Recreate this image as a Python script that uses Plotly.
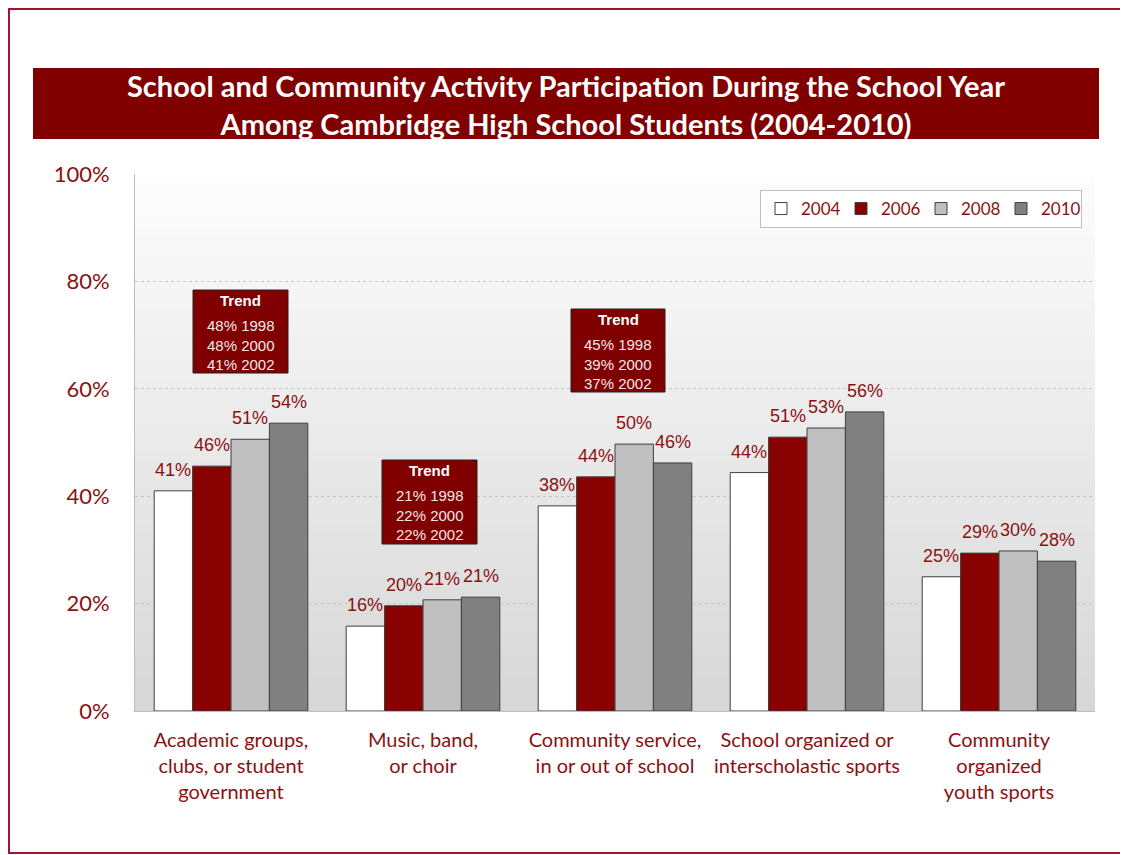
import plotly.graph_objects as go

# Data
categories = [
    "Academic groups,<br>clubs, or student<br>government",
    "Music, band,<br>or choir",
    "Community service,<br>in or out of school",
    "School organized or<br>interscholastic sports",
    "Community<br>organized<br>youth sports",
]
years = ["2004", "2006", "2008", "2010"]
values_2004 = [41.0, 15.8, 38.2, 44.4, 25.0]
values_2006 = [45.6, 19.6, 43.6, 51.0, 29.4]
values_2008 = [50.6, 20.7, 49.7, 52.7, 29.8]
values_2010 = [53.6, 21.2, 46.2, 55.7, 27.9]
series = [values_2004, values_2006, values_2008, values_2010]

trend_years = ["1998", "2000", "2002"]
trend_academic = [48, 48, 41]
trend_music = [21, 22, 22]
trend_community = [45, 39, 37]

bar_colors = ["#ffffff", "#880000", "#bfbfbf", "#808080"]
dark_red = "#8b1111"
calibri = "Lato, 'Open Sans', sans-serif"
arial = "'Liberation Sans', Arial, sans-serif"
bar_gap = 0.2

fig = go.Figure()

for year, vals, col in zip(years, series, bar_colors):
    fig.add_trace(go.Bar(
        name=year,
        x=categories,
        y=vals,
        marker=dict(color=col, line=dict(color="#3f3f3f", width=1)),
    ))

# the page sits 8px in from the window corner, so the helpers take window pixels
# (plot area spans 135..1095 x 174..711 in the window)
def px(x):
    return (x - 135) / 960

def py(y):
    return (711 - y) / 537

annotations = []

# value labels above each bar, placed on the category axis
bar_w = (1 - bar_gap) / len(series)
for j, vals in enumerate(series):
    for i, v in enumerate(vals):
        annotations.append(dict(
            x=i + (j - (len(series) - 1) / 2) * bar_w, y=v, xref="x", yref="y",
            text=f"{v:.0f}%", showarrow=False, yanchor="bottom", yshift=9,
            font=dict(family=arial, size=18, color=dark_red),
        ))

shapes = []
# vertical gradient background in the plot area
n = 60
for i in range(n):
    t = i / (n - 1)
    g = int(round(253 - t * (253 - 215)))
    shapes.append(dict(
        type="rect", xref="paper", yref="paper",
        x0=0, x1=1, y0=1 - (i + 1) / n - 0.002, y1=1 - i / n,
        fillcolor=f"rgb({g},{g},{g})", line=dict(width=0), layer="below",
    ))
# outer frame: left, top and bottom edges (the right edge is off the picture)
fl, fr, ft, fb = px(9), px(1300), py(9), py(853)
shapes.append(dict(
    type="path", xref="paper", yref="paper",
    path=f"M {fr} {ft} L {fl} {ft} L {fl} {fb} L {fr} {fb}",
    line=dict(color="#a5122e", width=2), layer="below",
))
# title banner
shapes.append(dict(
    type="rect", xref="paper", yref="paper",
    x0=px(33), x1=px(1099), y0=py(139), y1=py(68),
    line=dict(width=0), fillcolor="#800000", layer="above",
))

annotations.append(dict(
    xref="paper", yref="paper", x=px(566), y=py(104),
    text="<b>School and Community Activity Participation During the School Year<br>"
         "Among Cambridge High School Students (2004-2010)</b>",
    showarrow=False, font=dict(family=calibri, size=29, color="white"),
    xanchor="center", yanchor="middle",
))

# trend boxes: (values, left, right, top, bottom) in window pixels
trend_boxes = [
    (trend_academic, 193, 288, 290, 373),
    (trend_music, 382, 477, 460, 544),
    (trend_community, 571, 665, 309, 392),
]
for vals, x0, x1, y0, y1 in trend_boxes:
    shapes.append(dict(
        type="rect", xref="paper", yref="paper",
        x0=px(x0), x1=px(x1), y0=py(y1), y1=py(y0),
        fillcolor="#800000", line=dict(color="#222222", width=1), layer="above",
    ))
    cx = (x0 + x1) / 2
    annotations.append(dict(
        xref="paper", yref="paper", x=px(cx), y=py(y0 + 10),
        text="<b>Trend</b>", showarrow=False,
        font=dict(family=arial, size=15, color="white"),
        xanchor="center", yanchor="middle",
    ))
    lines = "<br>".join(f"{v}% {y}" for v, y in zip(vals, trend_years))
    annotations.append(dict(
        xref="paper", yref="paper", x=px(cx), y=py(y0 + 55),
        text=lines, showarrow=False, align="center",
        font=dict(family=arial, size=15, color="#f2e6e6"),
        xanchor="center", yanchor="middle",
    ))

fig.update_layout(
    width=1128, height=855,
    margin=dict(l=127, r=41, t=166, b=152, autoexpand=False),
    paper_bgcolor="white",
    plot_bgcolor="rgba(0,0,0,0)",
    barmode="group",
    bargap=bar_gap,
    bargroupgap=0,
    shapes=shapes,
    annotations=annotations,
    showlegend=True,
    legend=dict(
        orientation="h", x=px(1082), y=py(190), xanchor="right", yanchor="top",
        bgcolor="white", bordercolor="#bfbfbf", borderwidth=1,
        font=dict(family=calibri, size=17, color=dark_red),
        itemwidth=30, entrywidth=35, entrywidthmode="pixels",
        traceorder="normal",
    ),
    yaxis=dict(
        range=[0, 100], tickvals=[0, 20, 40, 60, 80, 100],
        ticktext=["0%", "20%", "40%", "60%", "80%", "100%"],
        showgrid=True, gridcolor="#c4c4c4", griddash="dot", gridwidth=1,
        showline=True, linecolor="#bdbdbd", linewidth=1,
        zeroline=False, ticks="", ticklabelstandoff=20, automargin=False,
        tickfont=dict(family=calibri, size=22, color=dark_red),
    ),
    xaxis=dict(
        showline=True, linecolor="#bdbdbd", linewidth=1,
        ticks="", ticklabelstandoff=11, tickangle=0, automargin=False,
        tickfont=dict(family=calibri, size=20, color=dark_red),
    ),
)

fig.write_html("out.html")
